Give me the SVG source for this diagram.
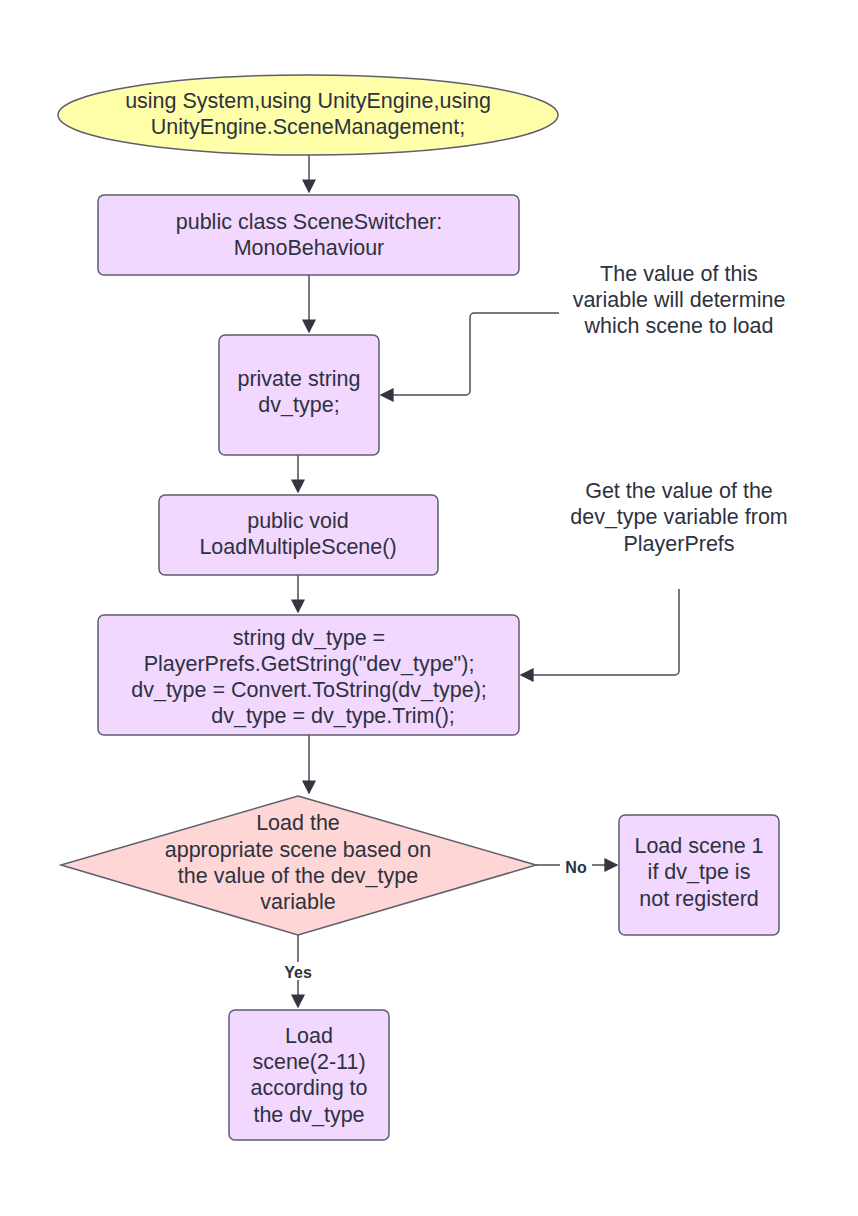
<svg xmlns="http://www.w3.org/2000/svg" width="858" height="1216" viewBox="0 0 858 1216">
<style>
.n{fill:#f2d7fe;stroke:#5e5e6e;stroke-width:1.5}
text{font-family:"Liberation Sans",Arial,sans-serif;font-size:21.5px;fill:#2e3240;text-anchor:middle}
.c{fill:none;stroke:#4a4d57;stroke-width:1.5}
.l{font-size:16px;font-weight:bold;fill:#2e3240}
</style>
<defs><marker id="a" viewBox="0 0 10 10" refX="9" refY="5" markerWidth="14" markerHeight="14" markerUnits="userSpaceOnUse" orient="auto"><path d="M0,0L10,5L0,10z" fill="#333640"/></marker></defs>
<rect width="858" height="1216" fill="#fff"/>
<g id="connectors">
<path class="c" d="M309,155V192" marker-end="url(#a)"/>
<path class="c" d="M309,275V332" marker-end="url(#a)"/>
<path class="c" d="M298,455V492" marker-end="url(#a)"/>
<path class="c" d="M298,575V612" marker-end="url(#a)"/>
<path class="c" d="M309,735V793" marker-end="url(#a)"/>
<path class="c" d="M298,935V1007" marker-end="url(#a)"/>
<path class="c" d="M536,865H617" marker-end="url(#a)"/>
<path class="c" d="M559,313H474a4,4 0 0 0-4,4V391a4,4 0 0 1-4,4H381" marker-end="url(#a)"/>
<path class="c" d="M679,589V671a4,4 0 0 1-4,4H521" marker-end="url(#a)"/>
</g>
<g id="start"><ellipse cx="308" cy="115" rx="250" ry="40" fill="#ffffa9" stroke="#5e5e6e" stroke-width="1.5"/><text x="308" y="108">using System,using UnityEngine,using</text><text x="308" y="134">UnityEngine.SceneManagement;</text></g>
<g id="class"><rect class="n" x="98" y="195" width="421" height="80" rx="6"/><text x="309" y="229">public class SceneSwitcher:</text><text x="309" y="255">MonoBehaviour</text></g>
<g id="field"><rect class="n" x="219" y="335" width="160" height="120" rx="6"/><text x="299" y="386">private string</text><text x="299" y="412">dv_type;</text></g>
<g id="method"><rect class="n" x="159" y="495" width="279" height="80" rx="6"/><text x="298" y="528">public void</text><text x="298" y="554">LoadMultipleScene()</text></g>
<g id="code"><rect class="n" x="98" y="615" width="421" height="120" rx="6"/><text x="309" y="645">string dv_type =</text><text x="309" y="671">PlayerPrefs.GetString("dev_type");</text><text x="309" y="697">dv_type = Convert.ToString(dv_type);</text><text x="333" y="723">dv_type = dv_type.Trim();</text></g>
<g id="decision"><path d="M298,796L536,865L298,935L61,865z" fill="#ffd6d6" stroke="#5e5e6e" stroke-width="1.5"/><text x="298" y="830">Load the</text><text x="298" y="857">appropriate scene based on</text><text x="298" y="883">the value of the dev_type</text><text x="298" y="909">variable</text></g>
<g id="scene1"><rect class="n" x="619" y="815" width="160" height="120" rx="6"/><text x="699" y="853">Load scene 1</text><text x="699" y="879">if dv_tpe is</text><text x="699" y="906">not registerd</text></g>
<g id="scenes"><rect class="n" x="229" y="1010" width="160" height="130" rx="6"/><text x="309" y="1043">Load</text><text x="309" y="1069">scene(2-11)</text><text x="309" y="1095">according to</text><text x="309" y="1122">the dv_type</text></g>
<g id="labels"><rect x="560" y="857" width="32" height="18" fill="#fff"/><text class="l" x="576" y="873">No</text><rect x="281" y="962" width="36" height="18" fill="#fff"/><text class="l" x="298" y="978">Yes</text></g>
<g id="note1"><text x="679" y="281">The value of this</text><text x="679" y="307">variable will determine</text><text x="679" y="333">which scene to load</text></g>
<g id="note2"><text x="679" y="498">Get the value of the</text><text x="679" y="524">dev_type variable from</text><text x="679" y="551">PlayerPrefs</text></g>
</svg>
